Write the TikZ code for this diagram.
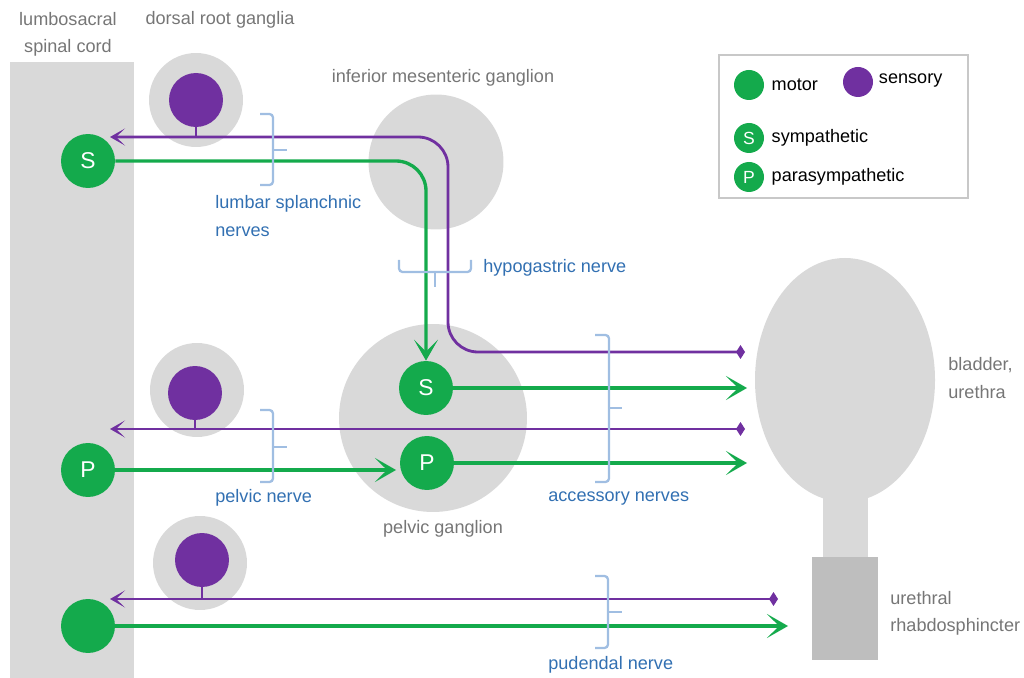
\documentclass[tikz,border=0pt]{standalone}
\usepackage{fontspec}
\setmainfont{Liberation Sans}
\usepackage{tikz}
\usetikzlibrary{arrows.meta}
\usetikzlibrary{positioning}
\usepackage{xcolor}
\definecolor{motorgreen}{RGB}{20,170,76}
\definecolor{sensepurple}{RGB}{112,48,160}
\definecolor{organgray}{RGB}{217,217,217}
\definecolor{musclegray}{RGB}{190,190,190}
\definecolor{labelgray}{RGB}{118,118,118}
\definecolor{nerveblue}{RGB}{50,112,178}
\definecolor{braceblue}{RGB}{160,190,226}
\definecolor{keyframe}{RGB}{200,200,200}

\tikzset{
  cell/.style={circle, fill=motorgreen, minimum size=1.08cm, inner sep=0pt, text=white, font=\fontsize{13}{15}\selectfont},
  soma/.style={circle, fill=sensepurple, minimum size=1.08cm, inner sep=0pt},
  ganglion/.style={circle, fill=organgray, inner sep=0pt},
  motor/.style={draw=motorgreen, line width=1.9pt},
  sensory/.style={draw=sensepurple, line width=1.6pt},
  brace/.style={draw=braceblue, line width=1.3pt, rounded corners=2pt},
  graylabel/.style={text=labelgray, font=\fontsize{10.3}{15.5}\selectfont, inner sep=0pt},
  bluelabel/.style={text=nerveblue, font=\fontsize{10.3}{15.5}\selectfont, inner sep=0pt, align=left, anchor=west},
  keytext/.style={font=\fontsize{10.3}{12}\selectfont, inner sep=0pt, anchor=west},
  keydot/.style={circle, minimum size=0.6cm, inner sep=0pt, text=white, font=\fontsize{10}{12}\selectfont},
  fwd/.style={-{Stealth[length=4.2mm, width=4.8mm, inset=2.4mm]}},
  back/.style={{Diamond[length=1.8mm, width=2.8mm]}-{Stealth[length=3mm, width=3.4mm, inset=1.8mm]}},
}

\begin{document}
\begin{tikzpicture}[x=0.02cm, y=-0.02cm]
  \useasboundingbox (0,0) rectangle (1024,678);

  % spinal cord, bladder, sphincter
  \fill[organgray] (10,62) rectangle (134,678);
  \fill[organgray] (823,490) rectangle (868,560);
  \fill[organgray] (845,380) ellipse (90 and 122);
  \fill[musclegray] (812,557) rectangle (878,660);

  % ganglia
  \node[ganglion, minimum size=2.7cm] (img) at (436,162) {};
  \node[ganglion, minimum size=3.76cm] (pg) at (433,418) {};
  \node[ganglion, minimum size=1.88cm] (drgA) at (196,100) {};
  \node[ganglion, minimum size=1.88cm] (drgB) at (197,390) {};
  \node[ganglion, minimum size=1.88cm] (drgC) at (200,563) {};

  \node[soma] (somaA) at (196,100) {};
  \node[soma] (somaB) at (195,393) {};
  \node[soma] (somaC) at (202,560) {};

  % motor neurons
  \node[cell] (cordS) at (88,161) {S};
  \node[cell] (cordP) at (88,470) {P};
  \node[cell] (cordM) at (88,626) {};
  \node[cell] (pgS) at (426,388) {S};
  \node[cell] (pgP) at (427,463) {P};

  % free ends
  \coordinate (cordA) at (110,137);
  \coordinate (cordB) at (110,429);
  \coordinate (cordC) at (110,599);
  \coordinate (pgPin) at (396,470);
  \coordinate (bladA) at (745,352);
  \coordinate (bladS) at (747,388);
  \coordinate (bladB) at (745,429);
  \coordinate (bladP) at (747,463);
  \coordinate (uretA) at (778,599);
  \coordinate (uretM) at (788,626);

  % sensory fibres
  \draw[sensory, back, rounded corners=0.6cm] (bladA) -| (448,137) -- (cordA);
  \draw[sensory, back] (bladB) -- (cordB);
  \draw[sensory, back] (uretA) -- (cordC);
  \draw[sensory] (somaA.south) -- (somaA.south |- cordA);
  \draw[sensory] (somaB.south) -- (somaB.south |- cordB);
  \draw[sensory] (somaC.south) -- (somaC.south |- cordC);

  % motor fibres
  \draw[motor, fwd, rounded corners=0.6cm] (cordS.east) -| (pgS.north);
  \draw[motor, fwd] (cordP.east) -- (pgPin);
  \draw[motor, fwd] (pgS.east) -- (pgS.east -| bladS);
  \draw[motor, fwd] (pgP.east) -- (pgP.east -| bladP);
  \draw[motor, fwd] (cordM.east) -- (cordM.east -| uretM);

  % nerve brackets
  \draw[brace] (260,114) -- (273,114) -- (273,185) -- (260,185); \draw[brace] (273,150) -- (287,150);
  \draw[brace] (260,410) -- (273,410) -- (273,482) -- (260,482); \draw[brace] (273,447) -- (287,447);
  \draw[brace] (595,335) -- (609,335) -- (609,482) -- (595,482); \draw[brace] (609,408) -- (622,408);
  \draw[brace] (595,576) -- (608,576) -- (608,648) -- (595,648); \draw[brace] (608,612) -- (622,612);
  \draw[brace] (399,260) -- (399,272) -- (471,272) -- (471,260); \draw[brace] (435,272) -- (435,287);

  % labels
  \node[graylabel, align=center] (cordlbl) at (68,34) {lumbosacral\\spinal cord};
  \node[graylabel] (drglbl) at (220,20) {dorsal root ganglia};
  \node[graylabel] (imglbl) at (443,78) {inferior mesenteric ganglion};
  \node[graylabel] (pglbl) at (443,529) {pelvic ganglion};
  \node[graylabel, align=left, anchor=west] (bladlbl) at (948,378) {bladder,\\urethra};
  \node[graylabel, align=left, anchor=west] (uretlbl) at (890,613) {urethral\\rhabdosphincter};

  \node[bluelabel] (lsnlbl) at (215,216) {lumbar splanchnic\\nerves};
  \node[bluelabel] (hgnlbl) at (483,268) {hypogastric nerve};
  \node[bluelabel] (pnlbl) at (215,498) {pelvic nerve};
  \node[bluelabel] (acclbl) at (548,499) {accessory nerves};
  \node[bluelabel] (pudlbl) at (548,665) {pudendal nerve};

  % key
  \draw[keyframe, line width=0.8pt] (719,55) rectangle (968,198);
  \node[keydot, fill=motorgreen] (keyM) at (749,85) {};
  \node[keytext, right=4pt of keyM] (keyMt) {motor};
  \node[keydot, fill=sensepurple] (keySe) at (858,82) {};
  \node[keytext, right=3pt of keySe, yshift=1pt] (keySet) {sensory};
  \node[keydot, fill=motorgreen] (keyS) at (749,138) {S};
  \node[keytext, right=4pt of keyS] (keySt) {sympathetic};
  \node[keydot, fill=motorgreen] (keyP) at (749,177) {P};
  \node[keytext, right=4pt of keyP] (keyPt) {parasympathetic};
\end{tikzpicture}
\end{document}
